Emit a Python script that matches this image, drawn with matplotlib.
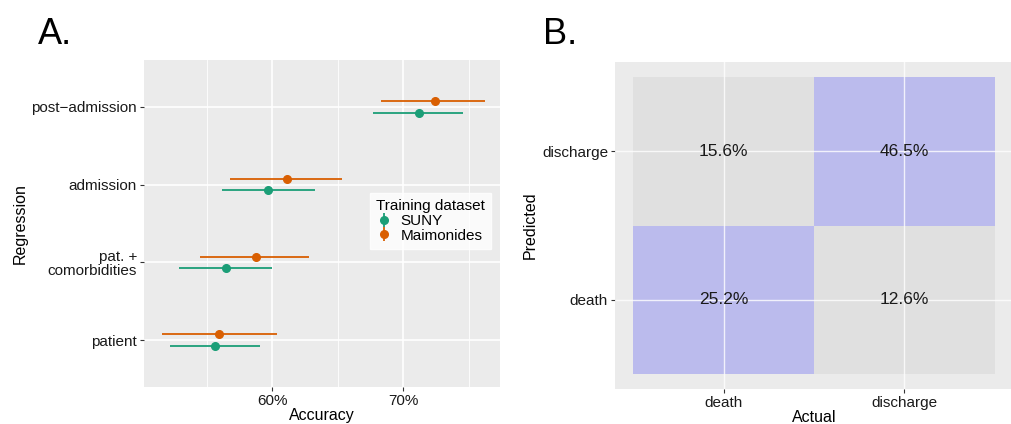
import numpy as np
import matplotlib.pyplot as plt
from matplotlib.lines import Line2D
from matplotlib.legend_handler import HandlerTuple

plt.rcParams['font.family'] = ['Liberation Sans', 'DejaVu Sans']

# panel A data (accuracy, %)
regressions = ['patient', 'pat. +\ncomorbidities', 'admission', 'post\u2212admission']
suny_acc = [55.65, 56.47, 59.67, 71.2]
suny_lo = [52.2, 52.9, 56.13, 67.66]
suny_hi = [59.06, 60.0, 63.26, 74.6]
maim_acc = [55.93, 58.76, 61.15, 72.47]
maim_lo = [51.6, 54.5, 56.8, 68.3]
maim_hi = [60.38, 62.82, 65.35, 76.26]

# panel B data (confusion matrix, %)
classes = ['death', 'discharge']
conf = [[25.2, 12.6],   # predicted death: actual death, actual discharge
        [15.6, 46.5]]   # predicted discharge

green = '#1B9E77'
orange = '#D95F02'
panel_bg = '#EBEBEB'

fig = plt.figure(figsize=(10.11, 4.24), dpi=100)

def style(ax):
    ax.set_facecolor(panel_bg)
    for s in ax.spines.values():
        s.set_visible(False)
    ax.tick_params(length=3, width=0.8, color='#333333', labelsize=11, labelcolor='#1a1a1a', pad=2)

# ---- A ----
ax1 = fig.add_axes([144/1011, 1-387/424, 356/1011, 327/424])
style(ax1)
ypos = np.arange(1, 5)
for x in [55, 65, 75]:
    ax1.axvline(x, color='white', lw=0.6, zorder=0)
for x in [60, 70]:
    ax1.axvline(x, color='white', lw=1.2, zorder=0)
for y in ypos:
    ax1.axhline(y, color='white', lw=1.2, zorder=0)

d = 0.075
ax1.hlines(ypos - d, suny_lo, suny_hi, color=green, lw=1.3, zorder=2)
ax1.plot(suny_acc, ypos - d, 'o', color=green, ms=5.5, zorder=3)
ax1.hlines(ypos + d, maim_lo, maim_hi, color=orange, lw=1.3, zorder=2)
ax1.plot(maim_acc, ypos + d, 'o', color=orange, ms=5.5, zorder=3)

ax1.set_xlim(50.2, 77.4)
ax1.set_ylim(0.4, 4.6)
ax1.set_xticks([60, 70])
ax1.set_xticklabels(['60%', '70%'])
ax1.set_yticks(ypos)
ax1.set_yticklabels(regressions, linespacing=1.0)
ax1.set_xlabel('Accuracy', fontsize=11.5, labelpad=0)
ax1.set_ylabel('Regression', fontsize=11.5, labelpad=3)

handles = [
    (Line2D([0], [0], color=green, marker='|', ms=10, mew=1.3, lw=0),
     Line2D([0], [0], color=green, marker='o', ms=5.5, lw=0)),
    (Line2D([0], [0], color=orange, marker='|', ms=10, mew=1.3, lw=0),
     Line2D([0], [0], color=orange, marker='o', ms=5.5, lw=0)),
]
leg = ax1.legend(handles, ['SUNY', 'Maimonides'], title='Training dataset',
                 handler_map={tuple: HandlerTuple(ndivide=1)},
                 loc='upper left', bbox_to_anchor=(226/356, (387-193)/327),
                 frameon=True, fancybox=False, fontsize=11, title_fontsize=11,
                 handlelength=1.0, handletextpad=0.6, labelspacing=0.05,
                 borderpad=0.4, borderaxespad=0)
leg.get_frame().set_facecolor('white')
leg.get_frame().set_edgecolor('white')
leg._legend_box.align = 'left'

fig.text(38/1011, 1-35/424, 'A.', fontsize=26, va='center', ha='left')

# ---- B ----
ax2 = fig.add_axes([615/1011, 1-389/424, 398/1011, 327/424])
style(ax2)
blue = '#BBBBED'
grey = '#E0E0E0'
for i in range(2):
    for j in range(2):
        c = blue if i == j else grey
        ax2.add_patch(plt.Rectangle((j + 0.5, i + 0.5), 1, 1, facecolor=c, edgecolor='none', zorder=1))
        ax2.text(j + 1, i + 1, f'{conf[i][j]:.1f}%', ha='center', va='center', fontsize=12.5, color='#1a1a1a', zorder=3)
for v in [1, 2]:
    ax2.axvline(v, color='white', lw=1.0, alpha=0.8, zorder=2)
    ax2.axhline(v, color='white', lw=1.0, alpha=0.8, zorder=2)
ax2.set_xlim(0.4, 2.6)
ax2.set_ylim(0.4, 2.6)
ax2.set_xticks([1, 2])
ax2.set_xticklabels(classes)
ax2.set_yticks([1, 2])
ax2.set_yticklabels(classes)
ax2.set_xlabel('Actual', fontsize=11.5, labelpad=0)
ax2.set_ylabel('Predicted', fontsize=11.5, labelpad=3)

fig.text(543/1011, 1-35/424, 'B.', fontsize=26, va='center', ha='left')

fig.savefig('out.png', dpi=100, facecolor='white')
